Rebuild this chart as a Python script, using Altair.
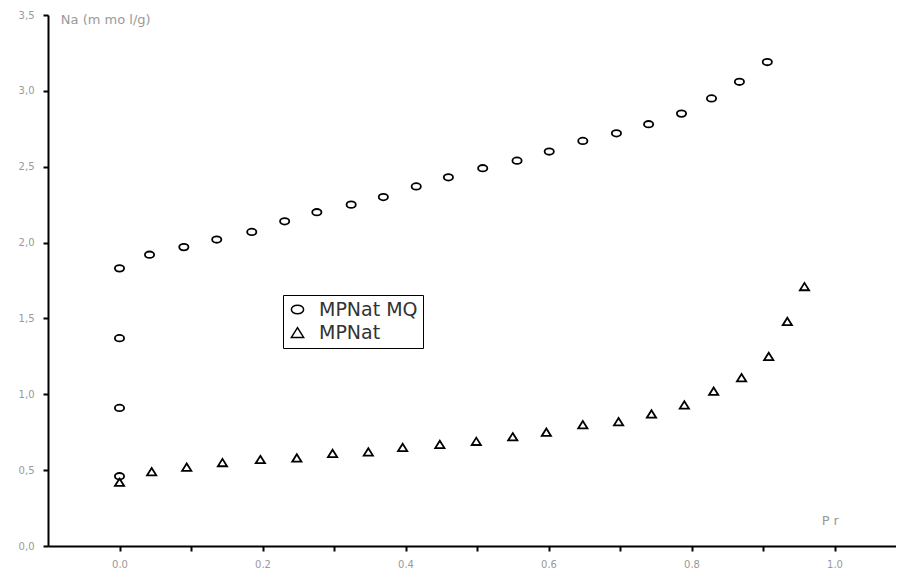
import altair as alt
import pandas as pd

# MPNat MQ (circles)
mq_x = [0.0, 0.0, 0.0, 0.0, 0.042, 0.09, 0.136, 0.185, 0.231, 0.276, 0.324, 0.369, 0.415,
        0.46, 0.508, 0.556, 0.601, 0.648, 0.695, 0.74, 0.786, 0.828, 0.867, 0.906]
mq_y = [0.46, 0.91, 1.37, 1.83, 1.92, 1.97, 2.02, 2.07, 2.14, 2.20, 2.25, 2.30, 2.37,
        2.43, 2.49, 2.54, 2.60, 2.67, 2.72, 2.78, 2.85, 2.95, 3.06, 3.19]

# MPNat (triangles)
mp_x = [0.0, 0.045, 0.094, 0.144, 0.197, 0.248, 0.298, 0.348, 0.396, 0.448, 0.499, 0.55,
        0.597, 0.648, 0.698, 0.744, 0.79, 0.831, 0.87, 0.908, 0.934, 0.958]
mp_y = [0.42, 0.49, 0.52, 0.55, 0.57, 0.58, 0.61, 0.62, 0.65, 0.67, 0.69, 0.72,
        0.75, 0.80, 0.82, 0.87, 0.93, 1.02, 1.11, 1.25, 1.48, 1.71]

series = ["MPNat MQ", "MPNat"]
x_ticks = [round(0.1 * i, 1) for i in range(0, 11)]
y_ticks = [0.25 * i for i in range(0, 15)]

df = pd.DataFrame(
    {"x": mq_x + mp_x,
     "y": mq_y + mp_y,
     "s": [series[0]] * len(mq_x) + [series[1]] * len(mp_x)}
)

ellipse = "M -1 0 A 1 0.7 0 1 0 1 0 A 1 0.7 0 1 0 -1 0 Z"
tri = "M 0 -0.8 L 1 0.8 L -1 0.8 Z"

xs = alt.Scale(domain=[-0.1, 1.086], nice=False, zero=False)
ys = alt.Scale(domain=[0, 3.5], nice=False)

x_axis = alt.Axis(
    values=x_ticks,
    labelExpr="(round(datum.value*10) % 2 == 0) ? replace(format(datum.value, '.1f'), '.', ',') : ''",
    title=None, grid=False, domainColor="black", domainWidth=2,
    tickColor="black", tickWidth=2, tickSize=5,
    labelColor="#999", labelFontSize=10, labelFont="DejaVu Sans", labelPadding=8,
)
y_axis = alt.Axis(
    values=y_ticks,
    labelExpr="(round(datum.value*4) % 2 == 0) ? replace(format(datum.value, '.1f'), '.', ',') : ''",
    title=None, grid=False, domainColor="black", domainWidth=2,
    tickColor="black", tickWidth=2, tickSize=5,
    labelColor="#999", labelFontSize=10, labelFont="DejaVu Sans", labelPadding=9,
)

points = alt.Chart(df).mark_point(filled=False, strokeWidth=1.8, size=85, opacity=1).encode(
    x=alt.X("x:Q", scale=xs, axis=x_axis),
    y=alt.Y("y:Q", scale=ys, axis=y_axis),
    shape=alt.Shape("s:N", scale=alt.Scale(domain=series, range=[ellipse, tri]),
                    legend=alt.Legend(title=None, orient="none", legendX=235, legendY=280,
                                      fillColor="white", strokeColor="black", padding=5,
                                      labelFontSize=19, labelColor="#333", labelFont="DejaVu Sans",
                                      symbolSize=150, symbolStrokeColor="black",
                                      symbolStrokeWidth=1.5, rowPadding=3, labelOffset=12)),
    color=alt.value("black"),
)

ann = pd.DataFrame({"x": [-0.082, 0.982], "y": [3.47, 0.165], "t": ["Na (m mo l/g)", "P r"]})
texts = alt.Chart(ann).mark_text(align="left", baseline="middle", fontSize=13,
                                 font="DejaVu Sans", color="#999").encode(
    x=alt.X("x:Q", scale=xs), y=alt.Y("y:Q", scale=ys), text="t:N"
)

chart = (points + texts).properties(
    width=848, height=531, background="white",
    autosize=alt.AutoSizeParams(type="none"),
    padding={"left": 40, "top": 7, "right": 0, "bottom": 22},
).configure_view(stroke=None)

chart.save("out.html", embed_options={"renderer": "svg", "actions": False})
